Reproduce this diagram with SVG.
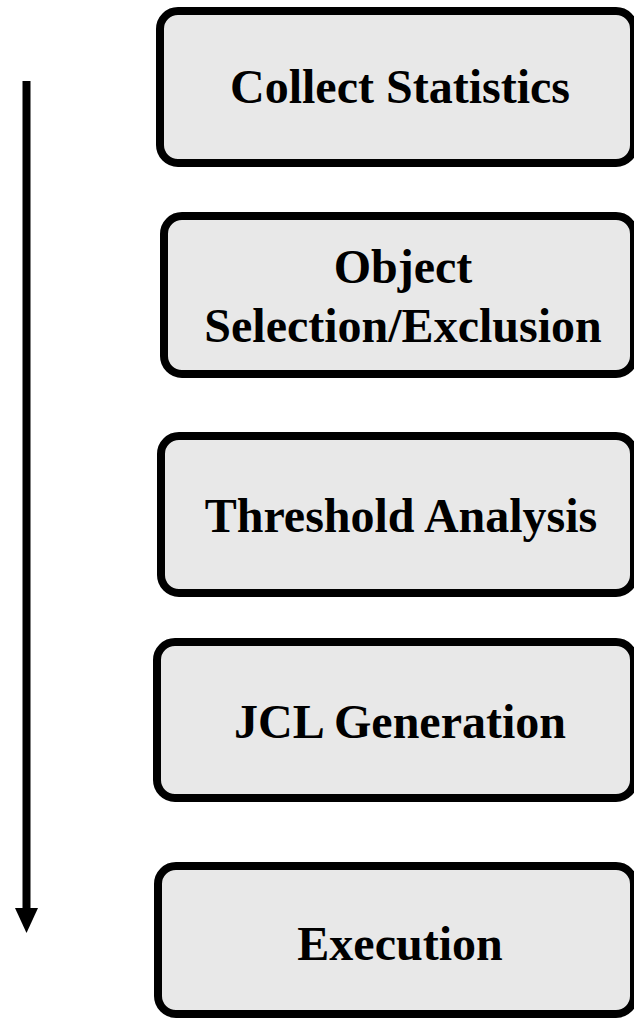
<svg xmlns="http://www.w3.org/2000/svg" width="634" height="1020" viewBox="0 0 634 1020">
<style>
.box{fill:#e8e8e8;stroke:#000;stroke-width:8}
.lbl{font-family:"Liberation Serif","Times New Roman",serif;font-weight:bold;font-size:48px;fill:#000;text-anchor:middle}
</style>
<rect width="634" height="1020" fill="#fff"/>
<g id="connectors">
<line x1="26.5" y1="81" x2="26.5" y2="910" stroke="#000" stroke-width="8"/>
<polygon points="15,908 38,908 26.5,933" fill="#000"/>
</g>
<g id="n1">
<rect class="box" x="160" y="11" width="474" height="152" rx="18"/>
<text class="lbl" x="400" y="103">Collect Statistics</text>
</g>
<g id="n2">
<rect class="box" x="164" y="216" width="470" height="158" rx="18"/>
<text class="lbl" x="403" y="283">Object</text>
<text class="lbl" x="403" y="342">Selection/Exclusion</text>
</g>
<g id="n3">
<rect class="box" x="161" y="436" width="473" height="157" rx="18"/>
<text class="lbl" x="401" y="532">Threshold Analysis</text>
</g>
<g id="n4">
<rect class="box" x="157" y="642" width="477" height="156" rx="18"/>
<text class="lbl" x="400" y="738">JCL Generation</text>
</g>
<g id="n5">
<rect class="box" x="158" y="866" width="476" height="148" rx="18"/>
<text class="lbl" x="400" y="960">Execution</text>
</g>
</svg>
